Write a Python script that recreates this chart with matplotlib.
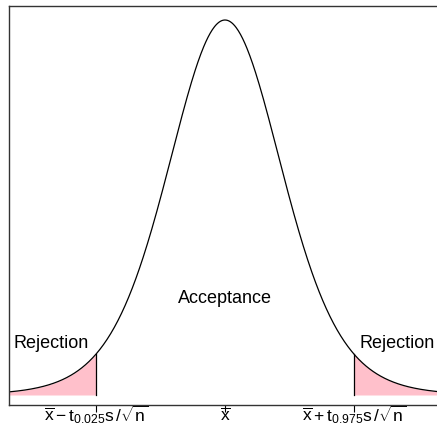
import numpy as np
import matplotlib
matplotlib.use("Agg")
import matplotlib.pyplot as plt
from math import gamma, pi, sqrt

# t distribution, 10 degrees of freedom
df = 10
t_crit = 2.228
x_lim = 3.73
tick_pos = [-t_crit, 0.0, t_crit]
tick_labels = [r"$\overline{\mathrm{x}}-\mathrm{t}_{0.025}\mathrm{s}\,/\sqrt{\mathrm{n}}$",
               r"$\overline{\mathrm{x}}$",
               r"$\overline{\mathrm{x}}+\mathrm{t}_{0.975}\mathrm{s}\,/\sqrt{\mathrm{n}}$"]
region_labels = ["Rejection", "Acceptance", "Rejection"]


def t_pdf(x, k):
    c = gamma((k + 1) / 2) / (sqrt(k * pi) * gamma(k / 2))
    return c * (1 + x ** 2 / k) ** (-(k + 1) / 2)


plt.rcParams['font.family'] = ['Liberation Sans', 'DejaVu Sans']
plt.rcParams['mathtext.fontset'] = 'custom'
plt.rcParams['mathtext.rm'] = 'Liberation Sans'
plt.rcParams['mathtext.it'] = 'Liberation Sans'
plt.rcParams['mathtext.default'] = 'regular'

fig = plt.figure(figsize=(4.37, 4.25), dpi=100)
ax = fig.add_axes([9 / 437, 20 / 425, 432 / 437, 399 / 425])

x = np.linspace(-x_lim, x_lim, 600)
y = t_pdf(x, df)
peak = t_pdf(0, df)

# хвосты распределения
xl = np.linspace(-x_lim, -t_crit, 200)
xr = np.linspace(t_crit, x_lim, 200)
ax.fill_between(xl, 0, t_pdf(xl, df), color='pink', lw=0)
ax.fill_between(xr, 0, t_pdf(xr, df), color='pink', lw=0)
ax.plot([-t_crit, -t_crit], [0, t_pdf(t_crit, df)], color='black', lw=0.9)
ax.plot([t_crit, t_crit], [0, t_pdf(t_crit, df)], color='black', lw=0.9)

ax.plot(x, y, color='black', lw=0.9)

scale = 375 / peak
ax.set_xlim(-x_lim, x_lim)
ax.set_ylim(-10 / scale, peak + 14 / scale)

ax.text(-3.0, 0.053, region_labels[0], ha='center', va='center', fontsize=13)
ax.text(0.0, 0.100, region_labels[1], ha='center', va='center', fontsize=13)
ax.text(2.98, 0.053, region_labels[2], ha='center', va='center', fontsize=13)

ax.set_xticks(tick_pos)
ax.set_xticklabels(tick_labels, fontsize=12.5, va='center')
ax.tick_params(axis='x', direction='out', length=5, width=0.8, pad=2.2)
ax.set_yticks([])
for s in ax.spines.values():
    s.set_linewidth(1.0)
    s.set_color('#333333')

fig.savefig("out.png", dpi=100)
